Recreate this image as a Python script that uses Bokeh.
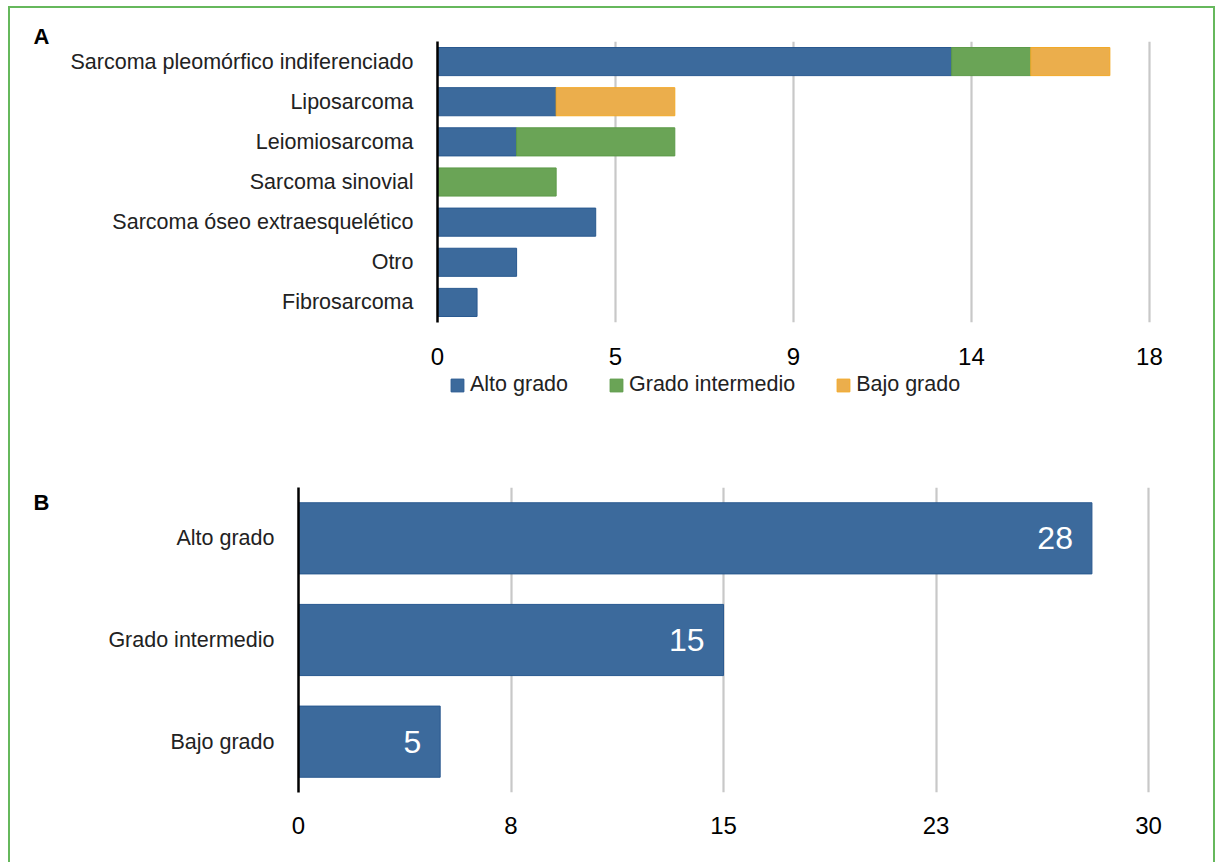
from bokeh.plotting import figure
from bokeh.models import (Range1d, FactorRange, FixedTicker, Legend, LegendItem,
                          Title, ColumnDataSource)
from bokeh.layouts import column
from bokeh.embed import file_html
from bokeh.resources import INLINE
from bokeh.core.properties import value

# ---------------- data ----------------
categories_a = ["Sarcoma pleomórfico indiferenciado", "Liposarcoma", "Leiomiosarcoma",
                "Sarcoma sinovial", "Sarcoma óseo extraesquelético", "Otro", "Fibrosarcoma"]
alto_a = [13, 3, 2, 0, 4, 2, 1]
inter_a = [2, 0, 4, 3, 0, 0, 0]
bajo_a = [2, 3, 0, 0, 0, 0, 0]
series_names = ["Alto grado", "Grado intermedio", "Bajo grado"]
ticks_a = [0, 4.5, 9, 13.5, 18]
tick_labels_a = ["0", "5", "9", "14", "18"]

categories_b = ["Alto grado", "Grado intermedio", "Bajo grado"]
values_b = [28, 15, 5]
ticks_b = [0, 7.5, 15, 22.5, 30]
tick_labels_b = ["0", "8", "15", "23", "30"]

# ---------------- style ----------------
FONT = "Liberation Sans"
FILLS = ["#3c6a9c", "#6aa456", "#ebae4c"]
LINES = ["#28588f", "#5c9a48", "#f2a826"]
GRID = "#c8c8c8"
BORDER = "#66b85c"


def style(p, ticks, labels, standoff):
    p.outline_line_color = None
    p.background_fill_color = "white"
    p.border_fill_color = "white"
    p.ygrid.grid_line_color = None
    p.xgrid.ticker = FixedTicker(ticks=ticks)
    p.xgrid.grid_line_color = GRID
    p.xgrid.grid_line_width = 2.2
    p.xaxis.ticker = FixedTicker(ticks=ticks)
    p.xaxis.major_label_overrides = {float(t): l for t, l in zip(ticks, labels)}
    p.xaxis.axis_line_color = None
    p.xaxis.major_tick_line_color = None
    p.xaxis.minor_tick_line_color = None
    p.xaxis.major_label_text_font = FONT
    p.xaxis.major_label_text_font_size = "24px"
    p.xaxis.major_label_text_color = "black"
    p.xaxis.major_label_standoff = standoff
    p.yaxis.axis_line_color = "black"
    p.yaxis.axis_line_width = 2.5
    p.yaxis.major_tick_line_color = None
    p.yaxis.minor_tick_line_color = None
    p.yaxis.major_label_text_font = FONT
    p.yaxis.major_label_text_font_size = "21.5px"
    p.yaxis.major_label_text_color = "#222222"
    p.yaxis.major_label_standoff = 18


def panel_title(text, offset, standoff):
    return Title(text=text, align="left", offset=offset, standoff=standoff,
                 text_font=FONT, text_font_size="22px", text_font_style="bold",
                 text_color="black", vertical_align="bottom")


# ---------------- panel A ----------------
src_a = ColumnDataSource(dict(
    cat=categories_a, alto=alto_a, inter=inter_a, bajo=bajo_a,
    la_alto=[1.0 if v > 0 else 0.0 for v in alto_a],
    la_inter=[1.0 if v > 0 else 0.0 for v in inter_a],
    la_bajo=[1.0 if v > 0 else 0.0 for v in bajo_a]))
pa = figure(width=1203, height=368,
            y_range=FactorRange(factors=categories_a[::-1]),
            x_range=Range1d(0, 18.28),
            output_backend="svg", toolbar_location=None, frame_align=False,
            min_border_left=427, min_border_right=53,
            min_border_top=33, min_border_bottom=54)
style(pa, ticks_a, tick_labels_a, 19)
pa.hbar_stack(["alto", "inter", "bajo"], y="cat", height=0.7, source=src_a,
              fill_color=FILLS, line_color=LINES, line_width=1,
              line_alpha=["la_alto", "la_inter", "la_bajo"])
pa.add_layout(panel_title("A", -404, -15), "above")

# ---------------- legend strip (panel A) ----------------
# the same stacked series, drawn on a range where the bars fall outside the
# strip's frame, so that only the legend of this strip is visible
pl = figure(width=1203, height=76, x_range=Range1d(-2, -1),
            y_range=FactorRange(factors=categories_a[::-1]),
            output_backend="svg", toolbar_location=None, frame_align=False,
            x_axis_location=None, y_axis_location=None, margin=(-4, 0, 0, 0),
            min_border_left=439, min_border_right=0, min_border_top=0, min_border_bottom=0)
pl.outline_line_color = None
pl.grid.visible = False
pl.border_fill_alpha = 0
pl.background_fill_alpha = 0
legend_renderers = pl.hbar_stack(["alto", "inter", "bajo"], y="cat", height=0.7,
                                 source=src_a, fill_color=FILLS, line_color=LINES,
                                 line_width=1)
legend = Legend(items=[LegendItem(label=n, renderers=[r])
                       for n, r in zip(series_names, legend_renderers)],
                orientation="horizontal", location="top_left",
                padding=0, margin=0, spacing=40, label_standoff=5,
                glyph_width=16, glyph_height=16,
                label_text_font=FONT, label_text_font_size="21.5px",
                label_text_color="#222222",
                border_line_color=None, background_fill_alpha=0)
pl.add_layout(legend)

# ---------------- panel B ----------------
src_b = ColumnDataSource(dict(cat=categories_b, val=values_b,
                              lbl=[str(v) for v in values_b]))
pb = figure(width=1203, height=414,
            y_range=FactorRange(factors=categories_b[::-1]),
            x_range=Range1d(0, 30.42),
            output_backend="svg", toolbar_location=None, frame_align=False,
            min_border_left=288, min_border_right=53,
            min_border_top=39, min_border_bottom=70)
style(pb, ticks_b, tick_labels_b, 18)
pb.hbar(y="cat", left=0, right="val", height=0.7, source=src_b,
        fill_color=FILLS[0], line_color=LINES[0], line_width=1)
pb.text(x="val", y="cat", text="lbl", source=src_b, x_offset=-19,
        text_align="right", text_baseline="middle", text_color="white",
        text_font=value(FONT), text_font_size="32px")
pb.add_layout(panel_title("B", -265, -54), "above")

layout = column(pa, pl, pb, spacing=0,
                styles={"margin-left": "8px", "margin-top": "6px",
                        "border-top": f"2px solid {BORDER}",
                        "border-left": f"2px solid {BORDER}",
                        "border-right": f"2px solid {BORDER}"})

open("out.html", "w").write(file_html(layout, INLINE))
